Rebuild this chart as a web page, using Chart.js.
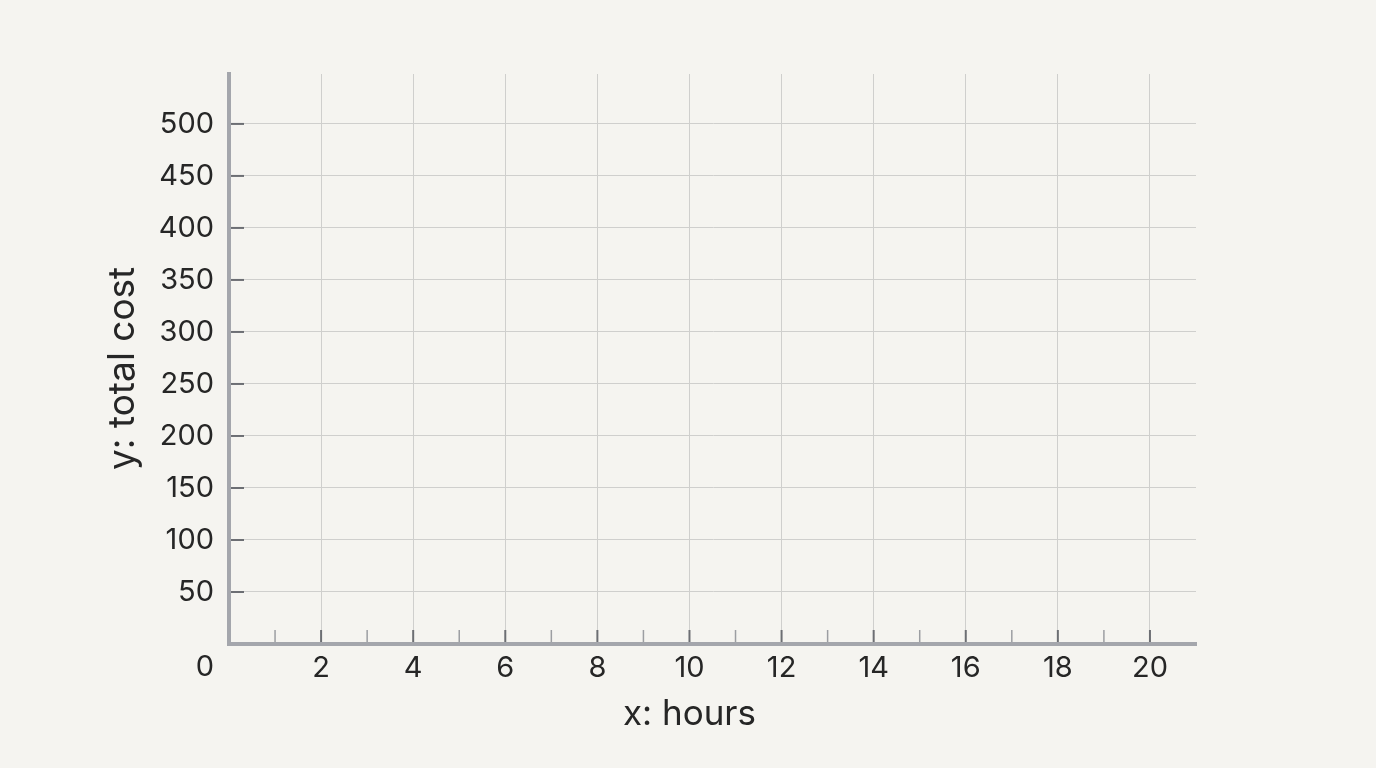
<!DOCTYPE html>
<html>
<head>
<meta charset="utf-8">
<script src="https://cdn.jsdelivr.net/npm/chart.js@4"></script>
<style>
  html, body { margin: 0; padding: 0; background: #f5f4f0; }
  #wrap { width: 1376px; height: 768px; }
</style>
</head>
<body>
<div id="wrap"><canvas id="costChart" width="1376" height="768"></canvas></div>
<script>
const xMajorTicks = [2, 4, 6, 8, 10, 12, 14, 16, 18, 20];
const xMinorTicks = [1, 3, 5, 7, 9, 11, 13, 15, 17, 19];
const yTicks = [50, 100, 150, 200, 250, 300, 350, 400, 450, 500];
const xRange = [0, 21];
const yRange = [0, 548];
const xTitle = 'x: hours';
const yTitle = 'y: total cost';
const points = [];

const textColor = '#262626';
const gridColor = '#cfcfcd';
const axisColor = '#a4a6ac';
const tickColor = '#6c6e73';

// inward tick marks, the shared "0" and the axis titles
const innerTicks = {
  id: 'innerTicks',
  afterDraw(chart) {
    const { ctx, chartArea, scales } = chart;
    ctx.save();
    ctx.lineCap = 'butt';
    xMajorTicks.concat(xMinorTicks).forEach(v => {
      const px = scales.x.getPixelForValue(v);
      const major = xMajorTicks.includes(v);
      ctx.strokeStyle = major ? tickColor : '#9c9ea2';
      ctx.lineWidth = major ? 2 : 1.5;
      ctx.beginPath();
      ctx.moveTo(px, chartArea.bottom - 2);
      ctx.lineTo(px, chartArea.bottom - 14);
      ctx.stroke();
    });
    yTicks.forEach(v => {
      const py = scales.y.getPixelForValue(v);
      ctx.strokeStyle = tickColor;
      ctx.lineWidth = 2;
      ctx.beginPath();
      ctx.moveTo(chartArea.left + 2, py);
      ctx.lineTo(chartArea.left + 15, py);
      ctx.stroke();
    });
    ctx.fillStyle = textColor;
    ctx.textAlign = 'center';
    ctx.textBaseline = 'middle';
    ctx.font = '29px Inter';
    ctx.fillText('0', scales.x.getPixelForValue(0) - 24, scales.y.getPixelForValue(0) + 23);

    ctx.textBaseline = 'alphabetic';
    ctx.font = '35px Inter';
    ctx.fillText(xTitle, scales.x.getPixelForValue(10), chartArea.bottom + 81);

    ctx.translate(chartArea.left - 106, scales.y.getPixelForValue(265));
    ctx.rotate(-Math.PI / 2);
    ctx.font = '37px Inter';
    ctx.textBaseline = 'middle';
    ctx.fillText(yTitle, 0, 0);
    ctx.restore();
  }
};

const ctx = document.getElementById('costChart').getContext('2d');
new Chart(ctx, {
  type: 'scatter',
  data: {
    datasets: [{ data: points }]
  },
  options: {
    responsive: false,
    animation: false,
    layout: { padding: { left: 100, right: 180, top: 74, bottom: 18 } },
    plugins: { legend: { display: false }, tooltip: { enabled: false } },
    scales: {
      x: {
        type: 'linear',
        min: xRange[0],
        max: xRange[1],
        afterBuildTicks: s => { s.ticks = [0].concat(xMinorTicks, xMajorTicks).sort((a, b) => a - b).map(v => ({ value: v })); },
        afterFit: s => { s.height = 106; },
        ticks: {
          autoSkip: false,
          maxRotation: 0,
          padding: 7,
          color: textColor,
          font: { family: 'Inter', size: 29 },
          callback: v => xMajorTicks.includes(v) ? String(v) : ''
        },
        grid: {
          drawTicks: false,
          lineWidth: 1,
          color: c => xMajorTicks.includes(c.tick && c.tick.value) ? gridColor : 'rgba(0,0,0,0)'
        },
        border: { display: true, color: axisColor, width: 4 }
      },
      y: {
        type: 'linear',
        min: yRange[0],
        max: yRange[1],
        afterBuildTicks: s => { s.ticks = [0].concat(yTicks).map(v => ({ value: v })); },
        afterFit: s => { s.width = 129; },
        ticks: {
          padding: 15,
          color: textColor,
          font: { family: 'Inter', size: 29 },
          callback: v => yTicks.includes(v) ? String(v) : ''
        },
        grid: {
          drawTicks: false,
          lineWidth: 1,
          color: c => yTicks.includes(c.tick && c.tick.value) ? gridColor : 'rgba(0,0,0,0)'
        },
        border: { display: true, color: axisColor, width: 4 }
      }
    }
  },
  plugins: [innerTicks]
});
</script>
</body>
</html>
